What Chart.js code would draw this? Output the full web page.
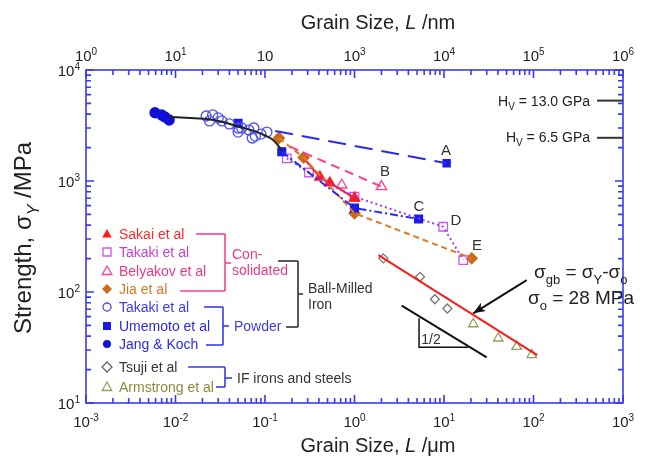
<!DOCTYPE html>
<html>
<head>
<meta charset="utf-8">
<script src="https://cdn.jsdelivr.net/npm/chart.js@4.4.1/dist/chart.umd.min.js"></script>
<style>
  html, body { margin: 0; padding: 0; background: #fff; }
  #wrap { width: 648px; height: 459px; }
</style>
</head>
<body>
<div id="wrap"><canvas id="c" width="648" height="459"></canvas></div>
<script>
// grain size L (um) and strength (MPa)
const jangL = [0.0059, 0.0070, 0.0076, 0.0085];
const jangS = [4121, 3935, 3776, 3546];

const takakiPowL = [0.022, 0.026, 0.024, 0.030, 0.033, 0.040, 0.050, 0.055, 0.050, 0.066, 0.075, 0.078, 0.072, 0.105, 0.090];
const takakiPowS = [3853, 3950, 3474, 3700, 3474, 3266, 3003, 3003, 2760, 2878, 3003, 2540, 2440, 2760, 2647];

const umemotoL = [0.05, 0.154, 1.0, 5.2];
const umemotoS = [3311, 1837, 571, 455];
const lineAL = [0.13, 10.7];
const lineAS = [2820, 1444];

const sakaiL = [0.28, 0.41, 0.53, 1.0];
const sakaiS = [1560, 1087, 960, 700];

const takakiConL = [0.175, 0.31, 1.0, 9.8, 16.4];
const takakiConS = [1602, 1193, 722, 387, 194];

const belyakovL = [0.72, 2.0];
const belyakovS = [920, 890];
const lineBL = [0.19, 2.0];
const lineBS = [2040, 890];

const jiaL = [0.143, 0.27, 1.0, 20.4];
const jiaS = [2440, 1629, 512, 201];

const tsujiL = [2.1, 5.4, 7.9, 10.9];
const tsujiS = [201, 137, 86, 71];

const armstrongL = [21.2, 40.4, 64.9, 95.5];
const armstrongS = [51.5, 38.3, 32.2, 27.1];

const fitL = [1.85, 110];
const fitS = [215, 27];

const curveL = [0.0087, 0.0145, 0.0225, 0.034, 0.0526, 0.0815, 0.123, 0.155];
const curveS = [3776, 3700, 3624, 3404, 3062, 2760, 2339, 1900];

const slopeL = [3.37, 30];
const slopeS = [75.3, 25.8];
const cornerL = [5.26, 5.26, 18.7];
const cornerS = [58, 31.8, 31.8];

const arrowL = [84, 21.2];
const arrowS = [128, 64.3];

const hvL = [512, 1000];
const hv13S = [5300, 5300];
const hv65S = [2450, 2450];

// axis tick labels
const bottomExp = ['-3', '-2', '-1', '0', '1', '2', '3'];
const topLabels = [['10', '0'], ['10', '1'], ['10', ''], ['10', '3'], ['10', '4'], ['10', '5'], ['10', '6']];
const leftExp = ['1', '2', '3', '4'];

const FONT = "'Liberation Sans', Arial, sans-serif";
const AXIS_BLUE = '#3a3af0';

const pts = (xs, ys) => xs.map((x, i) => ({ x, y: ys[i] }));

function rich(ctx, x, y, parts, size, color, align) {
  // parts: [text, kind, italic]; kind 1 = superscript, -1 = subscript
  const fontFor = p => (p[2] ? 'italic ' : '') + (p[1] ? Math.round(size * 0.68) : size) + 'px ' + FONT;
  let w = 0;
  parts.forEach(p => { ctx.font = fontFor(p); w += ctx.measureText(p[0]).width; });
  let cx = align === 'right' ? x - w : align === 'center' ? x - w / 2 : x;
  ctx.fillStyle = color;
  ctx.textBaseline = 'alphabetic';
  ctx.textAlign = 'left';
  parts.forEach(p => {
    ctx.font = fontFor(p);
    const dy = p[1] === 1 ? -size * 0.42 : p[1] === -1 ? size * 0.32 : 0;
    ctx.fillText(p[0], cx, y + dy);
    cx += ctx.measureText(p[0]).width;
  });
}

function marker(ctx, type, x, y, r, color, filled) {
  ctx.save();
  ctx.strokeStyle = color;
  ctx.fillStyle = color;
  ctx.lineWidth = 1.3;
  ctx.beginPath();
  if (type === 'circle') ctx.arc(x, y, r, 0, Math.PI * 2);
  else if (type === 'rect') ctx.rect(x - r * 0.8, y - r * 0.8, r * 1.6, r * 1.6);
  else if (type === 'triangle') {
    ctx.moveTo(x, y - r); ctx.lineTo(x + r * 0.95, y + r * 0.7); ctx.lineTo(x - r * 0.95, y + r * 0.7); ctx.closePath();
  } else if (type === 'rectRot') {
    ctx.moveTo(x, y - r); ctx.lineTo(x + r, y); ctx.lineTo(x, y + r); ctx.lineTo(x - r, y); ctx.closePath();
  }
  filled ? ctx.fill() : ctx.stroke();
  ctx.restore();
}

function bracket(ctx, color, segs) {
  ctx.save();
  ctx.strokeStyle = color;
  ctx.lineWidth = 1.6;
  segs.forEach(s => {
    ctx.beginPath(); ctx.moveTo(s[0], s[1]); ctx.lineTo(s[2], s[3]); ctx.stroke();
  });
  ctx.restore();
}

const frame = {
  id: 'frame',
  beforeDatasetsDraw(chart) {
    const { ctx, chartArea: a, scales: { x, y } } = chart;
    ctx.save();
    ctx.strokeStyle = AXIS_BLUE;
    ctx.lineWidth = 1.6;
    ctx.strokeRect(a.left, a.top, a.right - a.left, a.bottom - a.top);
    ctx.beginPath();
    for (let d = -3; d <= 3; d++) {
      for (let m = 1; m <= 9; m++) {
        if (d === 3 && m > 1) break;
        const px = x.getPixelForValue(m * Math.pow(10, d));
        const len = m === 1 ? 8 : 5;
        ctx.moveTo(px, a.bottom); ctx.lineTo(px, a.bottom - len);
        ctx.moveTo(px, a.top); ctx.lineTo(px, a.top + len);
      }
    }
    for (let d = 1; d <= 4; d++) {
      for (let m = 1; m <= 9; m++) {
        if (d === 4 && m > 1) break;
        const py = y.getPixelForValue(m * Math.pow(10, d));
        const len = m === 1 ? 8 : 5;
        ctx.moveTo(a.left, py); ctx.lineTo(a.left + len, py);
        ctx.moveTo(a.right, py); ctx.lineTo(a.right - len, py);
      }
    }
    ctx.stroke();
    ctx.restore();
  },
  afterDatasetsDraw(chart) {
    const { ctx, chartArea: a, scales: { x, y } } = chart;
    // arrow head
    const x1 = x.getPixelForValue(arrowL[0]), y1 = y.getPixelForValue(arrowS[0]);
    const x2 = x.getPixelForValue(arrowL[1]), y2 = y.getPixelForValue(arrowS[1]);
    const ang = Math.atan2(y2 - y1, x2 - x1);
    ctx.save();
    ctx.fillStyle = '#111';
    ctx.beginPath();
    ctx.moveTo(x2, y2);
    ctx.lineTo(x2 - 13 * Math.cos(ang - 0.38), y2 - 13 * Math.sin(ang - 0.38));
    ctx.lineTo(x2 - 9 * Math.cos(ang), y2 - 9 * Math.sin(ang));
    ctx.lineTo(x2 - 13 * Math.cos(ang + 0.38), y2 - 13 * Math.sin(ang + 0.38));
    ctx.closePath();
    ctx.fill();
    ctx.restore();

    // tick labels
    bottomExp.forEach((e, i) => {
      const px = x.getPixelForValue(Math.pow(10, i - 3));
      rich(ctx, px, a.bottom + 24, [['10', 0], [e, 1]], 15, '#222', 'center');
    });
    topLabels.forEach((t, i) => {
      const px = x.getPixelForValue(Math.pow(10, i - 3));
      rich(ctx, px, a.top - 9, [[t[0], 0], [t[1], 1]], 15, '#222', 'center');
    });
    leftExp.forEach((e, i) => {
      const py = y.getPixelForValue(Math.pow(10, i + 1));
      rich(ctx, a.left - 6, py + 6, [['10', 0], [e, 1]], 15, '#222', 'right');
    });

    // axis titles
    rich(ctx, 378, 29, [['Grain Size, ', 0], ['L', 0, true], [' /nm', 0]], 20, '#222', 'center');
    rich(ctx, 378, 452, [['Grain Size, ', 0], ['L', 0, true], [' /μm', 0]], 20, '#222', 'center');
    ctx.save();
    ctx.translate(31, 238);
    ctx.rotate(-Math.PI / 2);
    rich(ctx, 0, 0, [['Strength, ', 0], ['σ', 0], ['Y', -1, true], [' /MPa', 0]], 24, '#222', 'center');
    ctx.restore();

    // curve labels
    ctx.font = '15px ' + FONT;
    ctx.fillStyle = '#333';
    ctx.textAlign = 'center';
    ctx.textBaseline = 'middle';
    [['A', 446, 151], ['B', 385, 172], ['C', 419, 207], ['D', 456, 221], ['E', 477, 246]].forEach(l => ctx.fillText(l[0], l[1], l[2]));
    ctx.font = '14px ' + FONT;
    ctx.fillText('1/2', 431, 340);

    // hardness labels
    rich(ctx, 590, 106, [['H', 0], ['V', -1], [' = 13.0 GPa', 0]], 14, '#222', 'right');
    rich(ctx, 590, 142, [['H', 0], ['V', -1], [' = 6.5 GPa', 0]], 14, '#222', 'right');

    // grain-boundary equation
    rich(ctx, 534, 278, [['σ', 0], ['gb', -1], [' = σ', 0], ['Y', -1], ['-σ', 0], ['o', -1]], 19, '#222', 'left');
    rich(ctx, 528, 304, [['σ', 0], ['o', -1], [' = 28 MPa', 0]], 19, '#222', 'left');

    // legend
    const rows = [
      ['triangle', true, '#ff1a1a', 'Sakai et al', '#ff2a2a', 234],
      ['rect', false, '#cc55ee', 'Takaki et al', '#c840d0', 252],
      ['triangle', false, '#ff3f8f', 'Belyakov et al', '#ee3a80', 271],
      ['rectRot', true, '#cc6a1a', 'Jia et al', '#cf7a2a', 289],
      ['circle', false, '#4a4aee', 'Takaki et al', '#3c3ce8', 307],
      ['rect', true, '#1a1ae6', 'Umemoto et al', '#2a2ae6', 326],
      ['circle', true, '#1010d8', 'Jang & Koch', '#2a2ae6', 344],
      ['rectRot', false, '#666', 'Tsuji et al', '#333', 367],
      ['triangle', false, '#9a9a60', 'Armstrong et al', '#8a8a3c', 387]
    ];
    rows.forEach(r => {
      marker(ctx, r[0], 107, r[5], r[0] === 'circle' ? 4 : 5, r[2], r[1]);
      ctx.font = '14px ' + FONT;
      ctx.fillStyle = r[4];
      ctx.textAlign = 'left';
      ctx.textBaseline = 'middle';
      ctx.fillText(r[3], 119, r[5] + 1);
    });
    bracket(ctx, '#ff3f8f', [[196, 234, 225, 234], [225, 234, 225, 291], [180, 291, 225, 291], [225, 263, 231, 263]]);
    ctx.font = '14px ' + FONT;
    ctx.fillStyle = '#ee3a80';
    ctx.textBaseline = 'middle';
    ctx.fillText('Con-', 232, 255);
    ctx.fillText('solidated', 232, 271);
    bracket(ctx, '#3a3aee', [[204, 307, 223, 307], [223, 307, 223, 345], [206, 345, 223, 345], [223, 326, 229, 326]]);
    ctx.fillStyle = '#3c3ce8';
    ctx.fillText('Powder', 234, 327);
    bracket(ctx, '#333', [[278, 261, 298, 261], [298, 261, 298, 327], [286, 327, 298, 327], [298, 294, 303, 294]]);
    ctx.fillStyle = '#333';
    ctx.fillText('Ball-Milled', 308, 289);
    ctx.fillText('Iron', 308, 305);
    bracket(ctx, '#3a3aee', [[188, 367, 225, 367], [225, 367, 225, 387], [216, 387, 225, 387], [225, 378, 232, 378]]);
    ctx.fillStyle = '#333';
    ctx.fillText('IF irons and steels', 237, 379);
  }
};

const line = (data, color, width, dash, extra) => Object.assign({
  data, showLine: true, borderColor: color, borderWidth: width, borderDash: dash,
  pointRadius: 0, fill: false
}, extra || {});

const points = (data, style, color, filled, r) => ({
  data, showLine: false, pointStyle: style, pointRadius: r,
  borderColor: color, backgroundColor: filled ? color : 'rgba(0,0,0,0)', pointBorderWidth: 1.3
});

new Chart(document.getElementById('c'), {
  type: 'scatter',
  data: {
    datasets: [
      line(pts(hvL, hv13S), '#333', 2, []),
      line(pts(hvL, hv65S), '#333', 2, []),
      line(pts(curveL, curveS), '#222', 2, [], { tension: 0.4, cubicInterpolationMode: 'monotone' }),
      line(pts(lineAL, lineAS), '#2a2aee', 2, [18, 9]),
      line(pts(lineBL, lineBS), '#ff3f8f', 2, [9, 6]),
      line(pts(umemotoL.slice(1), umemotoS.slice(1)), '#2a2aee', 2, [8, 3, 2, 3]),
      line(pts(takakiConL, takakiConS), '#a040ee', 2, [2, 3]),
      line(pts(jiaL, jiaS), '#dd7a22', 2, [6, 4]),
      line(pts(sakaiL, sakaiS), '#ff1a1a', 2, []),
      line(pts(fitL, fitS), '#ff1a1a', 2, []),
      line(pts(slopeL, slopeS), '#111', 2, []),
      line(pts(cornerL, cornerS), '#111', 1.5, []),
      line(pts(arrowL, arrowS), '#111', 2, []),
      points(pts(takakiPowL, takakiPowS), 'circle', '#5050ee', false, 5),
      points(pts(jangL, jangS), 'circle', '#1010d8', true, 5),
      points(pts(umemotoL, umemotoS), 'rect', '#1a1ae6', true, 5.5),
      points(pts(lineAL.slice(1), lineAS.slice(1)), 'rect', '#1a1ae6', true, 5),
      points(pts(sakaiL.slice(1), sakaiS.slice(1)), 'triangle', '#ff1a1a', true, 6),
      points(pts(takakiConL, takakiConS), 'rect', '#cc55ee', false, 6),
      points(pts(belyakovL, belyakovS), 'triangle', '#ff3f8f', false, 6),
      points(pts(jiaL, jiaS), 'rectRot', '#cc6a1a', true, 5.5),
      points(pts(tsujiL, tsujiS), 'rectRot', '#777', false, 4.5),
      points(pts(armstrongL, armstrongS), 'triangle', '#9a9a60', false, 5.5)
    ]
  },
  options: {
    responsive: false,
    animation: false,
    layout: { padding: { left: 86, right: 25, top: 70, bottom: 56 } },
    plugins: { legend: { display: false }, tooltip: { enabled: false } },
    scales: {
      x: { type: 'logarithmic', min: 0.001, max: 1000, display: false },
      y: { type: 'logarithmic', min: 10, max: 10000, display: false }
    }
  },
  plugins: [frame]
});
</script>
</body>
</html>
